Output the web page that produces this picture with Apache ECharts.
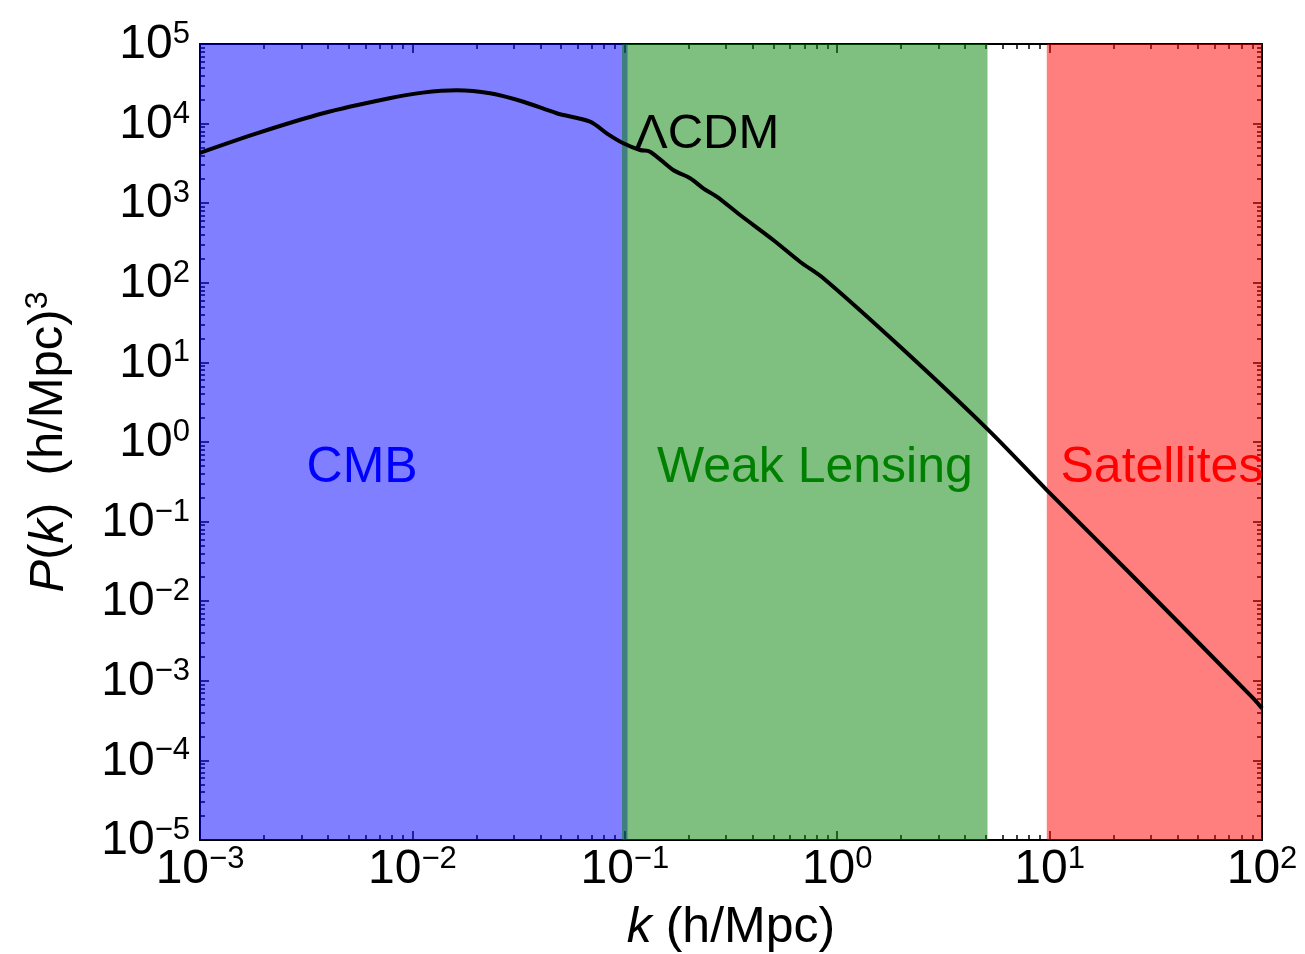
<!DOCTYPE html>
<html>
<head>
<meta charset="utf-8">
<script src="https://cdn.jsdelivr.net/npm/echarts@6/dist/echarts.min.js"></script>
<style>
  html, body { margin: 0; padding: 0; background: #ffffff; }
  #chart { width: 1305px; height: 954px; }
</style>
</head>
<body>
<div id="chart"></div>
<script>
// Matter power spectrum P(k) for LambdaCDM, log-log
const kValues = [0.001, 0.00185, 0.0038, 0.0078, 0.0112, 0.0162, 0.0232, 0.0333, 0.0478, 0.0686,
  0.0822, 0.0984, 0.118, 0.1315, 0.169, 0.203, 0.234, 0.271, 0.349, 0.5,
  0.668, 0.861, 1.98, 5.14, 9.7, 24.8, 91, 100];
const powerValues = [4300, 7550, 13500, 20800, 24500, 26200, 24000, 18800, 13500, 10600,
  7550, 5660, 4660, 4440, 2610, 2060, 1540, 1210, 711, 345,
  184, 114, 15.7, 1.42, 0.249, 0.0203, 0.0006, 0.00045];

// Scale ranges probed by each kind of observation (k in h/Mpc)
const bandNames = ['CMB', 'Weak Lensing', 'Satellites'];
const bandStart = [0.001, 0.097, 9.7];
const bandEnd = [0.103, 5.1, 100];
// Where each band's name sits (k, P)
const bandLabelK = [0.0058, 0.785, 33.8];
const bandLabelP = [0.47, 0.47, 0.47];

const curveName = '\u039bCDM';
const curveLabelK = 0.244;
const curveLabelP = 7400;

const kRange = [1e-3, 1e2];
const pRange = [1e-5, 1e5];

const bandFill = ['rgba(0,0,255,0.5)', 'rgba(0,128,0,0.5)', 'rgba(255,0,0,0.5)'];
const bandText = ['#0000ff', '#008000', '#ff0000'];

const FONT = '"Liberation Sans", Arial, Helvetica, sans-serif';

function powLabel(v) {
  const e = Math.round(Math.log10(v));
  const s = String(e).replace('-', '\u2212');
  return '{b|10}{s|' + s + '}';
}
const powRich = {
  b: { fontSize: 48, lineHeight: 50, verticalAlign: 'bottom', fontFamily: FONT, color: '#000' },
  s: { fontSize: 31, lineHeight: 31, verticalAlign: 'top', fontFamily: FONT, color: '#000' }
};

const axisLine = { show: true, onZero: false, lineStyle: { color: '#000', width: 2 } };
const majorTick = { show: true, inside: true, length: 9, lineStyle: { color: '#000', width: 1.5 } };
const minorTick = { show: true, splitNumber: 9, length: 5, lineStyle: { color: '#000', width: 1.5 } };

const chart = echarts.init(document.getElementById('chart'), null, { renderer: 'canvas' });

chart.setOption({
  animation: false,
  backgroundColor: '#ffffff',
  grid: { left: 200, right: 43, top: 44, bottom: 114, containLabel: false, outerBoundsMode: 'none' },
  xAxis: [
    {
      type: 'log', logBase: 10, min: kRange[0], max: kRange[1], interval: 1, splitNumber: 5,
      position: 'bottom',
      axisLine: axisLine, axisTick: majorTick, minorTick: minorTick,
      splitLine: { show: false }, minorSplitLine: { show: false },
      axisLabel: { margin: 4, formatter: powLabel, rich: powRich },
      name: '{i|k} (h/Mpc)', nameLocation: 'middle', nameGap: 63,
      nameTextStyle: {
        fontSize: 50, fontFamily: FONT, color: '#000',
        rich: { i: { fontSize: 50, fontStyle: 'italic', fontFamily: FONT, color: '#000' } }
      }
    },
    {
      type: 'log', logBase: 10, min: kRange[0], max: kRange[1], interval: 1, splitNumber: 5,
      position: 'top',
      axisLine: axisLine, axisTick: majorTick, minorTick: minorTick,
      splitLine: { show: false }, axisLabel: { show: false }
    }
  ],
  yAxis: [
    {
      type: 'log', logBase: 10, min: pRange[0], max: pRange[1], interval: 1, splitNumber: 10,
      position: 'left',
      axisLine: axisLine, axisTick: majorTick, minorTick: minorTick,
      splitLine: { show: false }, minorSplitLine: { show: false },
      axisLabel: { margin: 10, formatter: powLabel, rich: powRich },
      name: '{i|P}({i|k})  (h/Mpc){s|3}', nameLocation: 'middle', nameGap: 126, nameRotate: 90,
      nameTextStyle: {
        fontSize: 49, fontFamily: FONT, color: '#000',
        rich: {
          i: { fontSize: 49, lineHeight: 52, verticalAlign: 'bottom', fontStyle: 'italic', fontFamily: FONT, color: '#000' },
          s: { fontSize: 32, lineHeight: 32, verticalAlign: 'top', fontFamily: FONT, color: '#000' }
        }
      }
    },
    {
      type: 'log', logBase: 10, min: pRange[0], max: pRange[1], interval: 1, splitNumber: 10,
      position: 'right',
      axisLine: axisLine, axisTick: majorTick, minorTick: minorTick,
      splitLine: { show: false }, axisLabel: { show: false }
    }
  ],
  series: [
    {
      // shaded k ranges
      type: 'line', z: 1, data: [], silent: true,
      markArea: {
        silent: true,
        label: { show: false },
        data: bandNames.map((n, i) => [
          { xAxis: bandStart[i], itemStyle: { color: bandFill[i] } },
          { xAxis: bandEnd[i] }
        ])
      }
    },
    {
      name: curveName,
      type: 'line', z: 5,
      showSymbol: false, symbol: 'none',
      smooth: 0.3,
      clip: true,
      lineStyle: { color: '#000', width: 4 },
      data: kValues.map((k, i) => [k, powerValues[i]])
    },
    {
      // text annotations
      type: 'scatter', z: 6, silent: true,
      symbolSize: 1,
      itemStyle: { color: 'rgba(0,0,0,0)' },
      label: {
        show: true, position: 'inside', formatter: '{b}',
        fontSize: 50, fontFamily: FONT, opacity: 1,
        textBorderWidth: 0, textShadowBlur: 0
      },
      data: bandNames.map((n, i) => ({
        name: n, value: [bandLabelK[i], bandLabelP[i]],
        label: { color: bandText[i] }
      })).concat([{
        name: curveName, value: [curveLabelK, curveLabelP],
        label: { color: '#000000', fontSize: 49 }
      }])
    }
  ]
});
</script>
</body>
</html>
